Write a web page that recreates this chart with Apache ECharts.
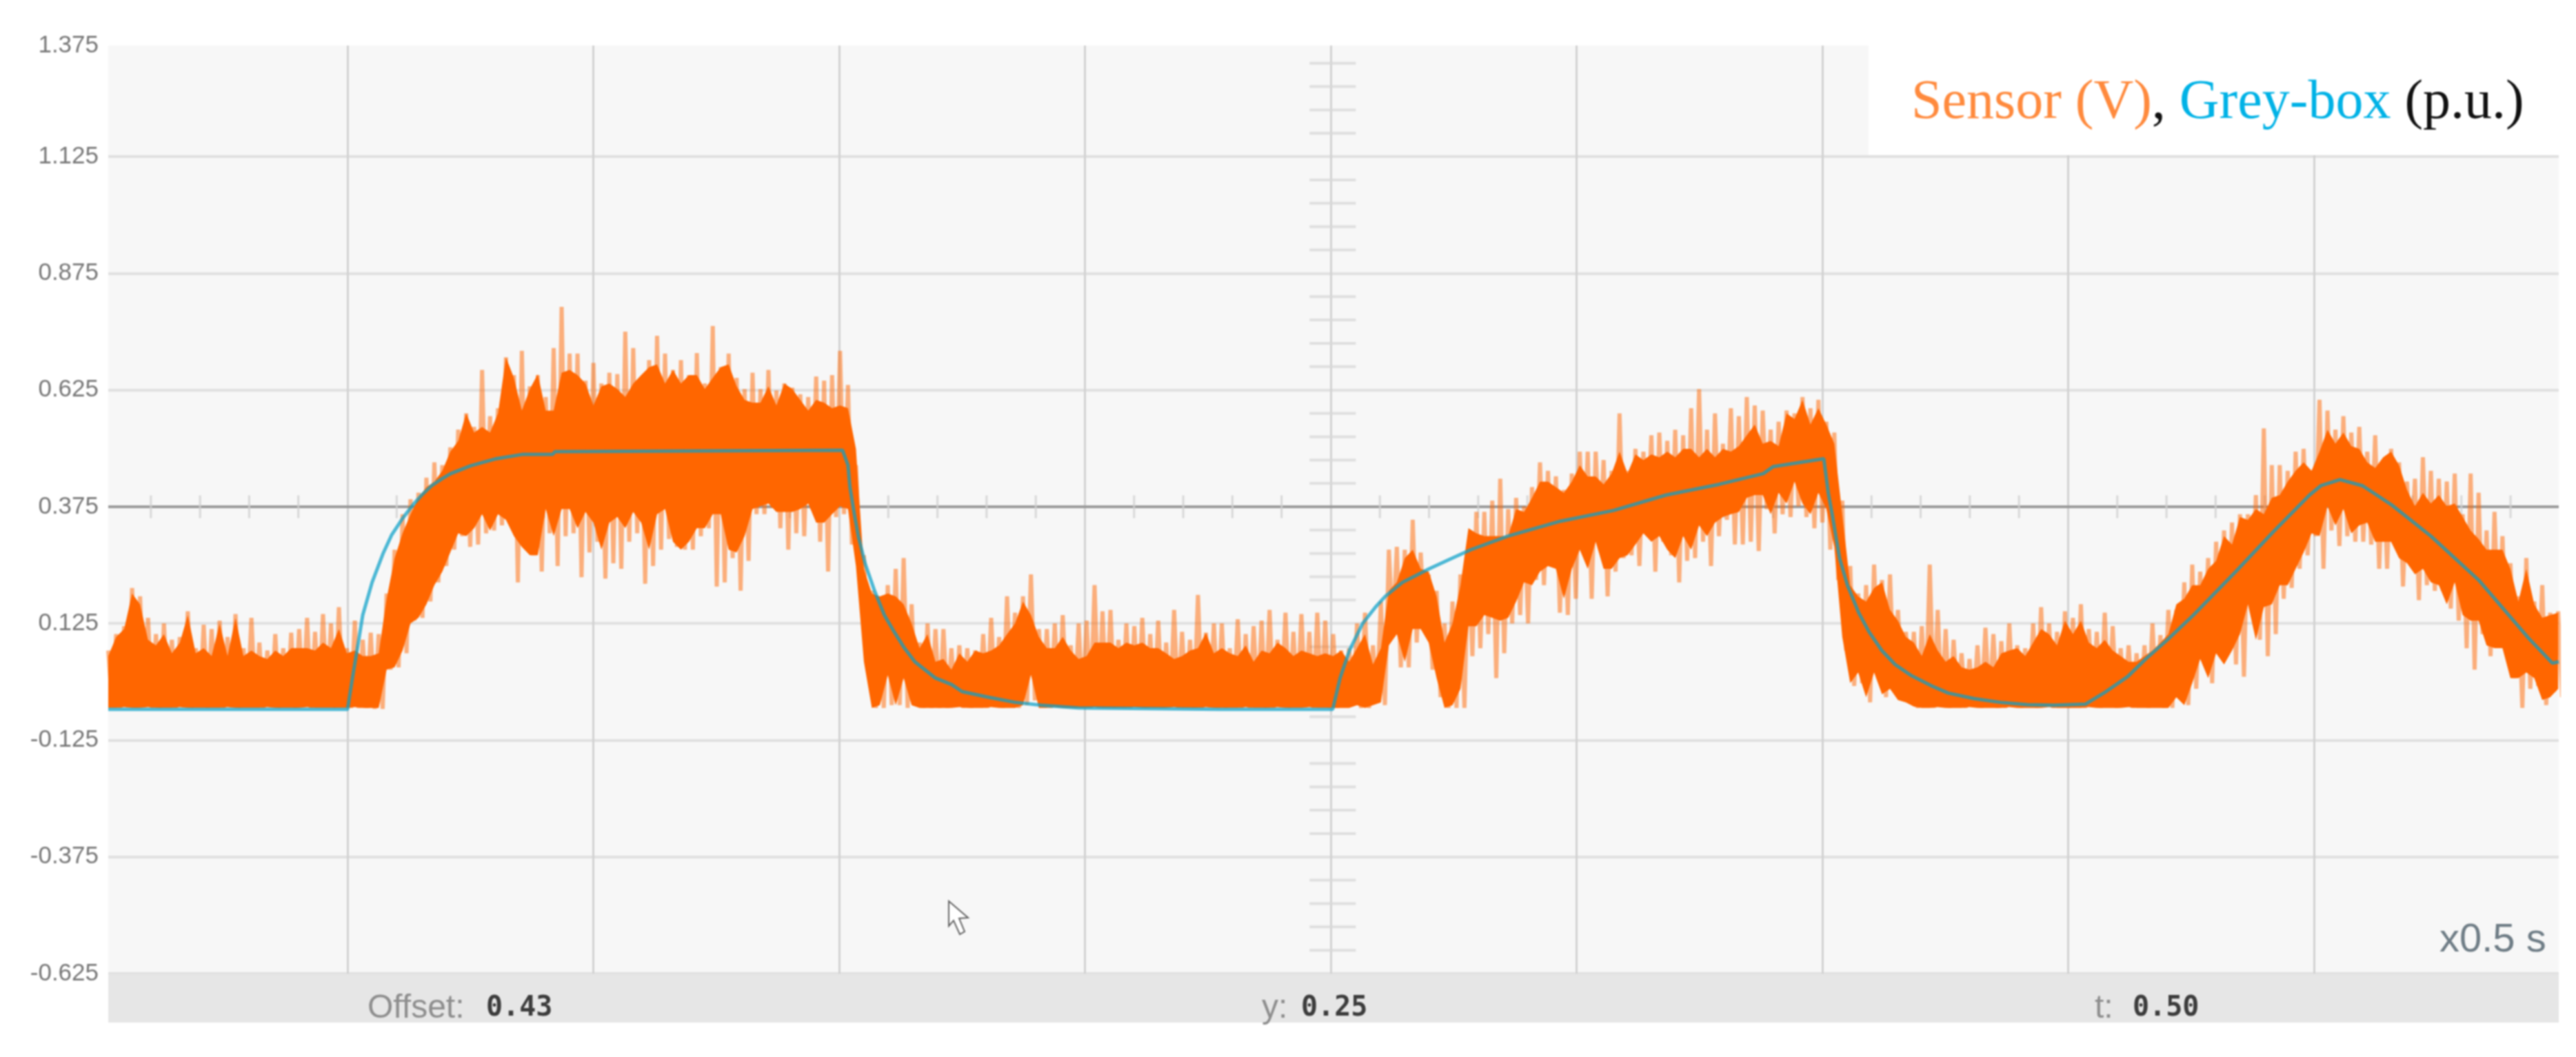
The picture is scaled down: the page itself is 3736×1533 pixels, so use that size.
<!DOCTYPE html>
<html>
<head>
<meta charset="utf-8">
<title>Sensor and grey-box response</title>
<style>
  html, body { margin: 0; padding: 0; background: #fff; }
  #chart { width: 3736px; height: 1533px; filter: blur(1px); }
</style>
<script src="https://cdn.jsdelivr.net/npm/echarts@6/dist/echarts.min.js"></script>
</head>
<body>
<div id="chart"></div>
<script>
// tick lists
const yTickValues = [-0.625, -0.375, -0.125, 0.125, 0.375, 0.625, 0.875, 1.125]
const yLabelValues = [-0.625, -0.375, -0.125, 0.125, 0.375, 0.625, 0.875, 1.125, 1.363]
const yTickLabels = ['-0.625', '-0.375', '-0.125', '0.125', '0.375', '0.625', '0.875', '1.125', '1.375']
const xDivisions = [0.5, 1, 1.5, 2, 2.5, 3, 3.5, 4, 4.5]
const xMinorTicks = [0.1, 0.2, 0.3, 0.4, 0.6, 0.7, 0.8, 0.9, 1.1, 1.2, 1.3, 1.4, 1.6, 1.7, 1.8, 1.9, 2.1, 2.2, 2.3, 2.4, 2.6, 2.7, 2.8, 2.9, 3.1, 3.2, 3.3, 3.4, 3.6, 3.7, 3.8, 3.9, 4.1, 4.2, 4.3, 4.4, 4.6, 4.7, 4.8, 4.9]
const yMinorTicks = [1.325, 1.275, 1.225, 1.175, 1.075, 1.025, 0.975, 0.925, 0.825, 0.775, 0.725, 0.675, 0.575, 0.525, 0.475, 0.425, 0.325, 0.275, 0.225, 0.175, 0.075, 0.025, -0.025, -0.075, -0.175, -0.225, -0.275, -0.325, -0.425, -0.475, -0.525, -0.575]
const centreLevel = 0.375

// time base of the sensor trace
const sampleStart = 0.0133
const sampleStep = 0.01618

// sensor trace, highest and lowest excursion per sample
const sensorPeak = [
  .067,.102,.119,.201,.183,.137,.102,.125,.09,.096,.151,.072,.122,.113,.131,.096,.145,.072,.137,.084,.067,.102,.072,.105,.113,.137,.107,.145,.125,.16,.072,.131,.09,.105,.102,.189,.283,.359,.391,.405,.437,.47,.464,.502,.54,.575,.546,.668,.569,.586,.695,.657,
  .709,.633,.657,.61,.715,.803,.703,.703,.645,.683,.639,.662,.659,.75,.715,.651,.689,.741,.703,.668,.689,.657,.704,.639,.762,.674,.703,.651,.627,.662,.627,.668,.624,.639,.63,.616,.61,.654,.645,.657,.709,.636,.464,.271,.195,.143,.207,.242,.265,.166,.084,.125,
  .113,.113,.072,.078,.072,.067,.102,.137,.096,.183,.148,.183,.23,.113,.113,.125,.143,.078,.125,.131,.207,.151,.154,.09,.125,.119,.137,.102,.131,.084,.154,.107,.09,.186,.105,.125,.125,.072,.134,.102,.119,.131,.154,.09,.148,.107,.145,.107,.148,.131,.102,.067,
  .072,.125,.148,.078,.172,.283,.289,.283,.347,.277,.23,.195,.125,.172,.23,.283,.364,.364,.388,.435,.37,.394,.376,.417,.47,.452,.44,.411,.446,.493,.493,.493,.475,.452,.575,.452,.499,.493,.528,.534,.516,.54,.528,.586,.627,.54,.575,.51,.586,.569,.61,.592,
  .581,.54,.557,.581,.575,.61,.586,.604,.557,.534,.388,.248,.189,.207,.251,.218,.23,.154,.107,.107,.119,.251,.154,.113,.09,.061,.049,.078,.116,.102,.087,.125,.078,.072,.125,.16,.125,.107,.151,.137,.166,.113,.107,.148,.119,.072,.078,.061,.078,.125,.1,.154,
  .154,.213,.251,.236,.265,.3,.324,.341,.359,.359,.4,.543,.464,.464,.452,.493,.499,.452,.604,.581,.54,.569,.534,.546,.493,.528,.475,.499,.47,.429,.435,.481,.452,.435,.429,.446,.359,.446,.405,.324,.364,.312,.254,.183,.265,.172,.207,.148,.151
]
const sensorDip = [
  -.052,-.056,-.05,-.056,-.053,-.056,-.056,-.052,-.056,-.054,-.056,-.048,-.056,-.044,-.056,-.05,-.056,-.048,-.052,-.056,-.05,-.056,-.052,-.056,-.048,-.056,-.05,-.042,-.056,-.052,-.056,-.056,-.056,-.058,-.058,.026,.031,.061,.131,.137,.172,.213,.248,.283,.312,.289,.294,.318,.324,.335,.364,.213,
  .3,.271,.236,.318,.248,.312,.318,.224,.277,.3,.221,.254,.242,.3,.318,.21,.248,.283,.306,.289,.283,.283,.312,.329,.204,.213,.265,.195,.259,.359,.359,.373,.329,.283,.318,.312,.37,.3,.236,.353,.359,.294,.242,.037,-.056,-.056,-.05,-.05,-.056,-.05,-.056,-.056,
  -.056,-.056,-.052,-.056,-.056,-.05,-.056,-.044,-.056,-.04,-.056,-.05,-.04,-.05,-.056,-.052,-.05,-.056,-.052,-.056,-.056,-.054,-.056,-.05,-.056,-.052,-.056,-.054,-.056,-.052,-.056,-.05,-.056,-.056,-.052,-.056,-.056,-.052,-.056,-.056,-.052,-.056,-.056,-.05,-.056,-.05,-.04,-.056,-.048,-.056,-.056,-.05,
  -.05,-.056,-.056,-.044,-.05,.102,.031,.031,.084,.107,.026,-.033,-.056,-.056,-.056,.055,.072,.102,.008,.061,.125,.143,.125,.218,.207,.248,.148,.143,.178,.277,.178,.3,.183,.236,.265,.271,.248,.329,.236,.3,.271,.213,.259,.265,.3,.248,.312,.347,.294,.294,.3,.28,
  .37,.318,.359,.353,.376,.353,.329,.341,.283,.218,.067,-.009,-.003,-.044,.02,-.033,-.003,-.021,-.04,-.056,-.05,-.056,-.053,-.056,-.05,-.056,-.052,-.056,-.05,-.056,-.056,-.05,-.056,-.054,-.056,-.05,-.056,-.048,-.056,-.05,-.056,-.052,-.056,-.05,-.056,-.052,-.056,-.05,-.056,-.048,-.056,-.056,
  -.009,-.05,-.015,.049,-.003,.072,.061,.037,.011,.172,.09,.055,.102,.178,.201,.242,.271,.312,.242,.324,.291,.312,.3,.3,.294,.242,.242,.294,.204,.254,.175,.207,.195,.195,.157,.131,.072,.026,.102,.055,.096,.078,.008,-.056,-.015,-.009,-.05,-.021,-.033
]

// solid body of the sensor trace, same time base
const sensorBodyTop = [
  .055,.096,.113,.189,.166,.09,.078,.102,.061,.084,.143,.061,.072,.055,.125,.055,.137,.055,.067,.055,.049,.067,.055,.072,.072,.072,.067,.084,.072,.113,.061,.067,.055,.055,.061,.178,.265,.318,.359,.394,.417,.429,.452,.493,.516,.575,.534,.546,.534,.575,.695,.651,
  .581,.627,.659,.581,.581,.662,.668,.657,.639,.592,.633,.639,.627,.61,.639,.657,.674,.68,.639,.668,.639,.657,.657,.627,.651,.674,.68,.633,.604,.598,.598,.633,.592,.639,.627,.604,.581,.604,.598,.586,.592,.586,.499,.242,.189,.183,.189,.183,.166,.125,.072,.102,
  .043,.049,.026,.061,.043,.067,.061,.067,.078,.102,.125,.172,.143,.096,.072,.072,.096,.067,.049,.055,.084,.084,.084,.072,.084,.078,.084,.072,.072,.061,.049,.055,.067,.072,.105,.061,.072,.061,.055,.078,.043,.067,.061,.084,.072,.055,.067,.061,.055,.061,.055,.067,
  .043,.072,.102,.037,.072,.195,.213,.265,.283,.242,.236,.183,.084,.125,.207,.329,.318,.312,.312,.312,.312,.37,.364,.394,.429,.429,.417,.405,.429,.464,.44,.44,.423,.446,.493,.446,.487,.475,.487,.481,.493,.481,.499,.499,.481,.499,.481,.499,.493,.505,.528,.551,
  .51,.516,.505,.575,.563,.604,.551,.586,.551,.51,.359,.207,.183,.172,.201,.213,.154,.131,.096,.084,.055,.102,.067,.043,.055,.031,.026,.031,.043,.031,.061,.067,.072,.055,.084,.113,.102,.078,.131,.102,.131,.084,.072,.09,.067,.055,.043,.043,.055,.067,.084,.102,
  .166,.178,.207,.207,.242,.259,.312,.294,.353,.347,.37,.359,.394,.4,.429,.452,.47,.452,.493,.54,.51,.534,.505,.499,.47,.458,.481,.493,.464,.411,.376,.405,.382,.4,.376,.382,.353,.324,.306,.283,.283,.283,.242,.172,.242,.166,.137,.143,.148
]
const sensorBodyBottom = [
  -.056,-.056,-.054,-.056,-.056,-.054,-.056,-.056,-.056,-.054,-.056,-.056,-.056,-.056,-.056,-.054,-.056,-.056,-.056,-.056,-.054,-.056,-.056,-.056,-.056,-.054,-.056,-.056,-.056,-.056,-.056,-.054,-.056,-.056,-.056,.026,.031,.067,.125,.137,.166,.207,.236,.277,.318,.312,.329,.359,.324,.359,.347,.312,
  .289,.271,.271,.37,.312,.37,.37,.329,.364,.341,.283,.341,.353,.329,.364,.341,.283,.359,.37,.3,.283,.3,.329,.329,.359,.359,.283,.277,.312,.37,.376,.382,.364,.364,.364,.37,.382,.341,.341,.359,.376,.37,.248,.043,-.056,-.05,.014,-.05,.008,-.05,-.056,-.056,
  -.056,-.056,-.056,-.054,-.056,-.056,-.056,-.054,-.056,-.056,-.056,-.05,.015,-.056,-.056,-.054,-.056,-.056,-.056,-.056,-.054,-.056,-.056,-.056,-.056,-.054,-.056,-.056,-.056,-.056,-.054,-.056,-.056,-.056,-.054,-.056,-.056,-.056,-.056,-.054,-.056,-.056,-.056,-.054,-.056,-.056,-.056,-.054,-.056,-.056,-.056,-.056,
  -.056,-.05,-.056,-.05,-.044,.078,.102,.043,.113,.113,.084,.008,-.056,-.05,-.015,.119,.119,.143,.137,.131,.137,.172,.213,.207,.236,.248,.242,.178,.242,.283,.242,.3,.242,.242,.265,.271,.294,.318,.3,.312,.283,.265,.312,.283,.335,.312,.341,.353,.359,.364,.394,.4,
  .4,.359,.405,.382,.429,.382,.359,.405,.37,.289,.096,-.003,.02,-.033,.02,-.027,-.015,-.039,-.044,-.053,-.056,-.056,-.054,-.056,-.056,-.056,-.054,-.056,-.056,-.056,-.056,-.054,-.056,-.056,-.056,-.056,-.054,-.056,-.056,-.056,-.056,-.054,-.056,-.056,-.056,-.056,-.054,-.056,-.056,-.056,-.056,-.056,
  -.033,-.05,-.003,.049,.008,.061,.037,.067,.102,.166,.09,.16,.166,.207,.207,.242,.277,.318,.312,.376,.335,.37,.318,.335,.341,.3,.3,.3,.265,.254,.23,.242,.213,.207,.166,.213,.143,.131,.131,.078,.072,.072,.008,.008,.02,.008,-.039,-.033,-.015
]

// grey-box model curve
const greyTime = [0.0133, 0.5, 0.51, 0.521, 0.531, 0.55, 0.572, 0.59, 0.612, 0.633, 0.651, 0.671, 0.692, 0.71, 0.751, 0.803, 0.855, 0.917, 0.922, 1.507, 1.518, 1.522, 1.531, 1.539, 1.553, 1.572, 1.592, 1.612, 1.633, 1.654, 1.696, 1.729, 1.75, 1.804, 1.858, 1.911, 1.987, 2.275, 2.504, 2.519, 2.538, 2.565, 2.591, 2.611, 2.646, 2.7, 2.741, 2.785, 2.86, 2.967, 3.075, 3.182, 3.29, 3.38, 3.4, 3.503, 3.512, 3.52, 3.535, 3.551, 3.574, 3.595, 3.621, 3.648, 3.68, 3.723, 3.756, 3.809, 3.862, 3.917, 3.971, 4.035, 4.077, 4.121, 4.158, 4.202, 4.255, 4.341, 4.417, 4.491, 4.514, 4.553, 4.599, 4.658, 4.738, 4.835, 4.937, 4.985, 4.998]
const greyValue = [-0.059, -0.059, 0.008, 0.078, 0.143, 0.213, 0.274, 0.315, 0.35, 0.379, 0.4, 0.42, 0.435, 0.446, 0.463, 0.478, 0.487, 0.487, 0.493, 0.496, 0.464, 0.417, 0.359, 0.312, 0.253, 0.195, 0.143, 0.107, 0.072, 0.043, 0.008, -0.006, -0.021, -0.033, -0.044, -0.05, -0.056, -0.059, -0.059, 0.008, 0.067, 0.125, 0.16, 0.183, 0.213, 0.242, 0.262, 0.283, 0.312, 0.344, 0.367, 0.4, 0.423, 0.446, 0.461, 0.478, 0.405, 0.359, 0.265, 0.207, 0.148, 0.107, 0.067, 0.037, 0.014, -0.009, -0.024, -0.036, -0.044, -0.049, -0.05, -0.048, -0.021, 0.011, 0.049, 0.09, 0.143, 0.236, 0.321, 0.4, 0.42, 0.433, 0.42, 0.379, 0.312, 0.218, 0.093, 0.04, 0.043]

// status bar texts
const statusLabels = ['Offset:', 'y:', 't:']
const statusValues = ['0.43', '0.25', '0.50']
const statusLabelX = [533, 1830, 3038]
const statusValueX = [705, 1887, 3093]

const chart = echarts.init(document.getElementById('chart'))

const sensorZigzag = sensorPeak.flatMap((peak, i) => {
  const t = sampleStart + i * sampleStep
  return [[t, peak], [t + sampleStep / 2, sensorDip[i]]]
})

const renderSensorBody = (params, api) => {
  const upper = sensorBodyTop.map((v, i) => api.coord([sampleStart + i * sampleStep, v]))
  const lower = sensorBodyBottom.map((v, i) => api.coord([sampleStart + i * sampleStep, v]))
  return {
    type: 'polygon',
    shape: { points: upper.concat(lower.reverse()) },
    style: { fill: '#ff6600' }
  }
}

const statusTexts = []
statusLabels.forEach((label, i) => {
  statusTexts.push({
    type: 'text', z: 10, x: statusLabelX[i], y: 1463,
    style: { text: label, fill: '#8e8e8e', font: '48px "Liberation Sans"', textVerticalAlign: 'middle' }
  })
  statusTexts.push({
    type: 'text', z: 10, x: statusValueX[i], y: 1463,
    style: { text: statusValues[i], fill: '#3c3c3c', font: 'bold 40px "DejaVu Sans Mono"', textVerticalAlign: 'middle' }
  })
})

const legendFont = { fontFamily: 'Liberation Serif', fontSize: 80, fontWeight: 'normal' }

chart.setOption({
  animation: false,
  backgroundColor: '#ffffff',
  title: {
    left: 2772,
    top: 110,
    padding: 0,
    z: 10,
    text: '{s|Sensor (V)}{k|, }{g|Grey-box}{k| (p.u.)}',
    textStyle: {
      fontWeight: 'normal',
      rich: {
        s: { color: '#ff8a3d', ...legendFont },
        g: { color: '#00b2e6', ...legendFont },
        k: { color: '#111111', ...legendFont }
      }
    }
  },
  grid: {
    left: 157,
    right: 25,
    top: 66,
    bottom: 121,
    show: true,
    backgroundColor: '#f7f7f7',
    borderWidth: 0
  },
  xAxis: {
    type: 'value',
    min: 0.0133,
    max: 4.998,
    axisLine: { show: false },
    axisTick: { show: false, customValues: xDivisions },
    axisLabel: { show: false },
    splitLine: { show: true, lineStyle: { color: '#d2d2d2', width: 3 } }
  },
  yAxis: {
    type: 'value',
    min: -0.625,
    max: 1.363,
    axisLine: { show: false },
    axisTick: { show: false, customValues: yTickValues },
    axisLabel: {
      customValues: yLabelValues,
      formatter: (value) => yTickLabels[yLabelValues.indexOf(value)],
      color: '#777777',
      fontFamily: 'Liberation Sans',
      fontSize: 35,
      margin: 14
    },
    splitLine: { show: true, lineStyle: { color: '#e0e0e0', width: 4 } }
  },
  series: [
    {
      name: 'Centre level',
      type: 'line',
      z: 1,
      showSymbol: false,
      silent: true,
      data: [[0.0133, centreLevel], [4.998, centreLevel]],
      lineStyle: { color: '#9a9a9a', width: 4 }
    },
    {
      name: 'Time ticks',
      type: 'scatter',
      z: 1,
      silent: true,
      symbol: 'rect',
      symbolSize: [3, 33],
      data: xMinorTicks.map(t => [t, centreLevel]),
      itemStyle: { color: '#cfcfcf' }
    },
    {
      name: 'Level ticks',
      type: 'scatter',
      z: 1,
      silent: true,
      symbol: 'rect',
      symbolSize: [67, 4],
      data: yMinorTicks.map(v => [2.504, v]),
      itemStyle: { color: '#d8d8d8' }
    },
    {
      name: 'Sensor (V)',
      type: 'line',
      z: 3,
      showSymbol: false,
      silent: true,
      data: sensorZigzag,
      lineStyle: { color: '#ff6600', width: 6, opacity: 0.5, join: 'bevel' }
    },
    {
      name: 'Sensor body',
      type: 'custom',
      z: 4,
      silent: true,
      clip: true,
      data: [[0, 0]],
      renderItem: renderSensorBody
    },
    {
      name: 'Grey-box (p.u.)',
      type: 'line',
      z: 5,
      showSymbol: false,
      silent: true,
      data: greyTime.map((t, i) => [t, greyValue[i]]),
      lineStyle: { color: '#0a9fc8', width: 5, opacity: 0.72 }
    }
  ],
  graphic: [
    { type: 'rect', z: 8, shape: { x: 2710, y: 60, width: 1026, height: 165 }, style: { fill: '#ffffff' } },
    { type: 'rect', z: 8, shape: { x: 157, y: 1413, width: 3554, height: 70 }, style: { fill: '#e6e6e6' } },
    {
      type: 'text', z: 10, x: 3538, y: 1364,
      style: { text: 'x0.5 s', fill: '#6f7d86', font: '58px "Liberation Sans"', textVerticalAlign: 'middle' }
    },
    {
      type: 'polygon', z: 10,
      shape: { points: [[1376, 1307], [1376, 1343], [1383, 1335], [1392, 1355], [1399, 1351], [1391, 1332], [1404, 1331]] },
      style: { fill: '#ffffff', stroke: '#666666', lineWidth: 2 }
    },
    ...statusTexts
  ]
})
</script>
</body>
</html>
